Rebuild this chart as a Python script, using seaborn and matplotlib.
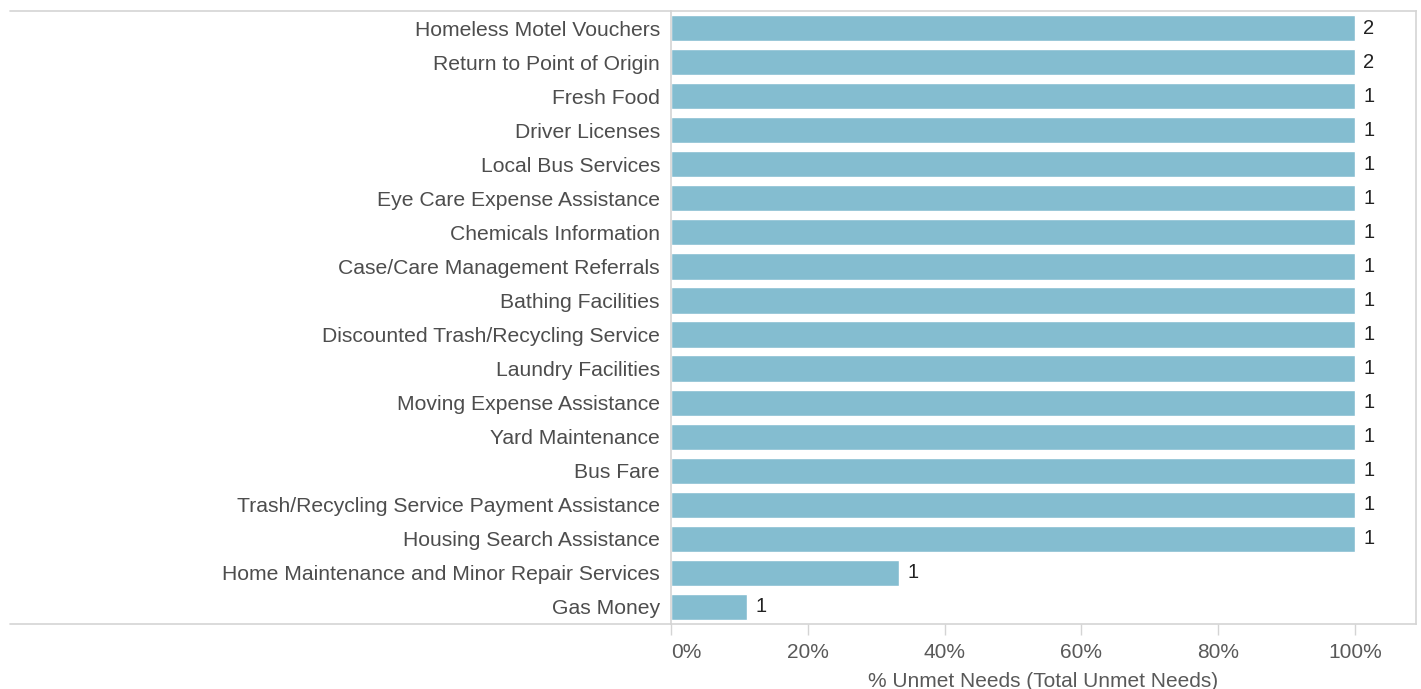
import pandas as pd
import seaborn as sns
import matplotlib.pyplot as plt
from matplotlib.lines import Line2D

# --- data ---
needs = [
    "Homeless Motel Vouchers", "Return to Point of Origin", "Fresh Food",
    "Driver Licenses", "Local Bus Services", "Eye Care Expense Assistance",
    "Chemicals Information", "Case/Care Management Referrals",
    "Bathing Facilities", "Discounted Trash/Recycling Service",
    "Laundry Facilities", "Moving Expense Assistance", "Yard Maintenance",
    "Bus Fare", "Trash/Recycling Service Payment Assistance",
    "Housing Search Assistance", "Home Maintenance and Minor Repair Services",
    "Gas Money",
]
pct_unmet = [100, 100, 100, 100, 100, 100, 100, 100, 100, 100,
             100, 100, 100, 100, 100, 100, 33.3, 11.1]
unmet_count = [2, 2, 1, 1, 1, 1, 1, 1, 1, 1, 1, 1, 1, 1, 1, 1, 1, 1]
tick_vals = [0, 20, 40, 60, 80, 100]
tick_labels = ["0%", "20%", "40%", "60%", "80%", "100%"]

BAR = "#84bdd0"
GRID = "#d4d4d4"

df = pd.DataFrame({"need": needs, "pct": pct_unmet, "n": unmet_count})

sns.set_theme(style="white")
plt.rcParams["font.family"] = ["Liberation Sans", "DejaVu Sans"]

W, H = 1421, 689
fig = plt.figure(figsize=(W / 100, H / 100), dpi=100)
ax = fig.add_axes([671 / W, 1 - 624 / H, (1416 - 671) / W, (624 - 11) / H])

sns.barplot(data=df, x="pct", y="need", orient="h", color=BAR,
            saturation=1, width=0.77, ax=ax)

ax.bar_label(ax.containers[0], labels=[str(v) for v in unmet_count],
             padding=6, fontsize=14.5, color="#222222")

ax.set_xlim(0, (1416 - 671) / 684 * 100)
ax.set_ylim(len(needs) - 0.5, -0.5)
ax.set_xticks(tick_vals)
ax.set_xticklabels(tick_labels)
for lbl in ax.get_xticklabels()[:1]:
    lbl.set_ha("left")
    lbl.set_x(0.4)
ax.tick_params(axis="x", length=8, width=1, color=GRID, pad=6,
               labelsize=15, labelcolor="#595959", bottom=True)
ax.tick_params(axis="y", length=0, pad=8, labelsize=15.2,
               labelcolor="#4d4d4d")
ax.set_xlabel("% Unmet Needs (Total Unmet Needs)", fontsize=15,
              color="#595959", labelpad=7)
ax.set_ylabel("")

for s in ax.spines.values():
    s.set_color(GRID)
    s.set_linewidth(1.2)

# frame lines running across the label column, as in the reference
for y in (11, 624):
    fig.add_artist(Line2D([10 / W, 671 / W], [1 - y / H, 1 - y / H],
                          color=GRID, lw=1.2, transform=fig.transFigure))

fig.savefig("out.png", dpi=100)
plt.close(fig)
